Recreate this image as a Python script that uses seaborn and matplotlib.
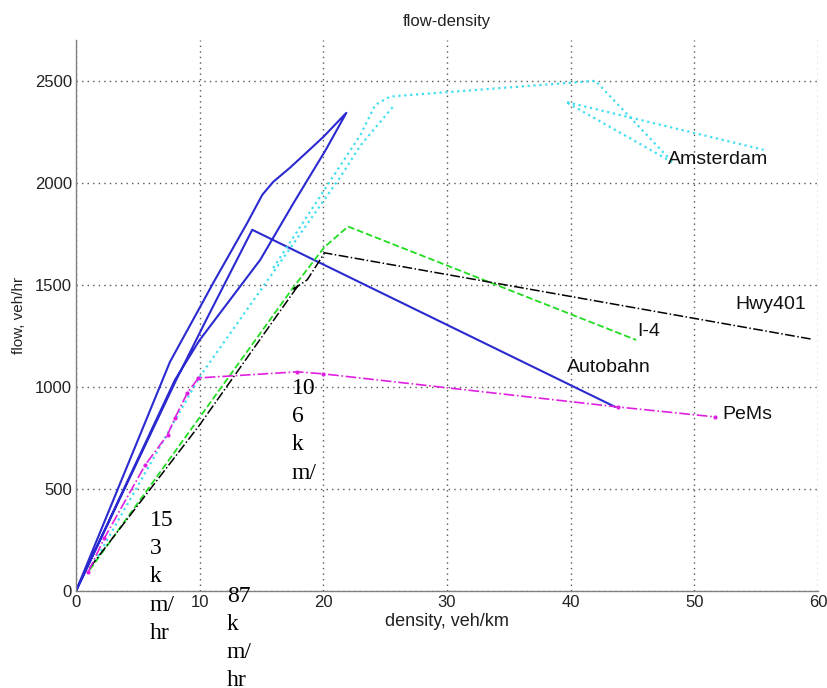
import numpy as np
import pandas as pd
import matplotlib
matplotlib.use("Agg")
import matplotlib.pyplot as plt
import seaborn as sns

# ---------------- data ----------------
autobahn_x = [0, 7.6, 9.9, 11.1, 13.85, 15.06, 15.95, 17.3, 18.7, 20.0, 21.86,
              20.2, 17.6, 14.9, 10.0, 8.0, 0, 8.1, 10.6, 14.25, 43.6]
autobahn_y = [0, 1123, 1377, 1510, 1804, 1941, 2005, 2074, 2152, 2225, 2343,
              2162, 1902, 1623, 1230, 1034, 0, 1034, 1337, 1770, 902]

amsterdam1_x = [15.95, 23.0, 24.2, 25.4, 42.0, 48.3, 39.6, 55.6]
amsterdam1_y = [1583, 2235, 2382, 2423, 2500, 2098, 2397, 2162]
amsterdam2_x = [1.3, 10.0, 21.4, 23.0, 25.7]
amsterdam2_y = [120, 1050, 2031, 2183, 2378]

i4_x = [1.1, 10.0, 17.6, 20.1, 22.0, 45.3]
i4_y = [103, 851, 1490, 1686, 1786, 1230]

hwy401_x = [1.1, 10.0, 18.0, 17.6, 18.7, 20.1, 59.4]
hwy401_y = [113, 814, 1500, 1480, 1525, 1657, 1235]

pems_x = [1.0, 2.3, 5.6, 7.4, 8.0, 9.0, 9.9, 17.9, 20.0, 43.8, 51.7]
pems_y = [95, 260, 618, 765, 848, 970, 1044, 1074, 1064, 902, 853]

series_labels = ["Amsterdam", "Hwy401", "I-4", "Autobahn", "PeMs"]
label_x = [47.9, 53.3, 45.4, 39.7, 52.3]
label_y = [2113, 1402, 1270, 1093, 863]

speed_texts = ["10\n6\nk\nm/", "15\n3\nk\nm/\nhr", "87\nk\nm/\nhr"]
speed_x = [17.46, 5.98, 12.2]
speed_y = [1044, 397, 25]

x_ticks = [0, 10, 20, 30, 40, 50, 60]
y_ticks = [0, 500, 1000, 1500, 2000, 2500]

# ---------------- plot ----------------
sns.set_theme(style="white")
plt.rcParams["font.family"] = ["Liberation Sans", "DejaVu Sans"]

fig = plt.figure(figsize=(8.28, 6.88), dpi=100)
ax = fig.add_axes([76 / 828, 1 - 591 / 688, (818 - 76) / 828, (591 - 40) / 688])


def draw(xs, ys, color, ls, lw, marker=None, ms=0, units=None):
    df = pd.DataFrame({"x": xs, "y": ys})
    if units is not None:
        df["u"] = units
        sns.lineplot(data=df, x="x", y="y", units="u", estimator=None, sort=False,
                     color=color, linestyle=ls, linewidth=lw, ax=ax,
                     marker=marker, markersize=ms, markeredgewidth=0)
    else:
        sns.lineplot(data=df, x="x", y="y", estimator=None, sort=False,
                     color=color, linestyle=ls, linewidth=lw, ax=ax,
                     marker=marker, markersize=ms, markeredgewidth=0)


draw(autobahn_x, autobahn_y, "#2a2ad0", "-", 1.5)
draw(amsterdam1_x + amsterdam2_x, amsterdam1_y + amsterdam2_y, "#40dff0", ":", 1.6,
     units=[0] * len(amsterdam1_x) + [1] * len(amsterdam2_x))
draw(i4_x, i4_y, "#22dd22", "--", 1.3)
draw(hwy401_x, hwy401_y, "#000000", "-.", 1.1)
draw(pems_x, pems_y, "#e020e0", "-.", 1.2, marker="o", ms=3)

for t, x, y in zip(series_labels, label_x, label_y):
    ax.text(x, y, t, fontsize=14, ha="left", va="center", color="#111111")

for t, x, y in zip(speed_texts, speed_x, speed_y):
    ax.text(x, y, t, fontsize=17, ha="left", va="top", color="black",
            family=["Liberation Serif", "DejaVu Serif"], linespacing=1.45,
            clip_on=False)

ax.set_xlim(0, 60)
ax.set_ylim(0, 2700)
ax.set_xticks(x_ticks)
ax.set_yticks(y_ticks)
ax.set_xticklabels([str(v) for v in x_ticks])
ax.set_yticklabels([str(v) for v in y_ticks])
ax.grid(True, linestyle=(0, (1, 3)), color="#555555", linewidth=1.0)
ax.tick_params(direction="in", length=5, width=0.8, color="#808080",
               labelsize=12, labelcolor="#222222", pad=3)
for s in ["top", "right"]:
    ax.spines[s].set_visible(False)
for s in ["left", "bottom"]:
    ax.spines[s].set_color("#808080")
    ax.spines[s].set_linewidth(1.0)

ax.set_xlabel("density, veh/km", fontsize=13, color="#222222", labelpad=2)
ax.set_ylabel("flow, veh/hr", fontsize=11, color="#222222", labelpad=6)
ax.set_title("flow-density", fontsize=12, color="#222222", pad=10)

fig.savefig("out.png", dpi=100)
